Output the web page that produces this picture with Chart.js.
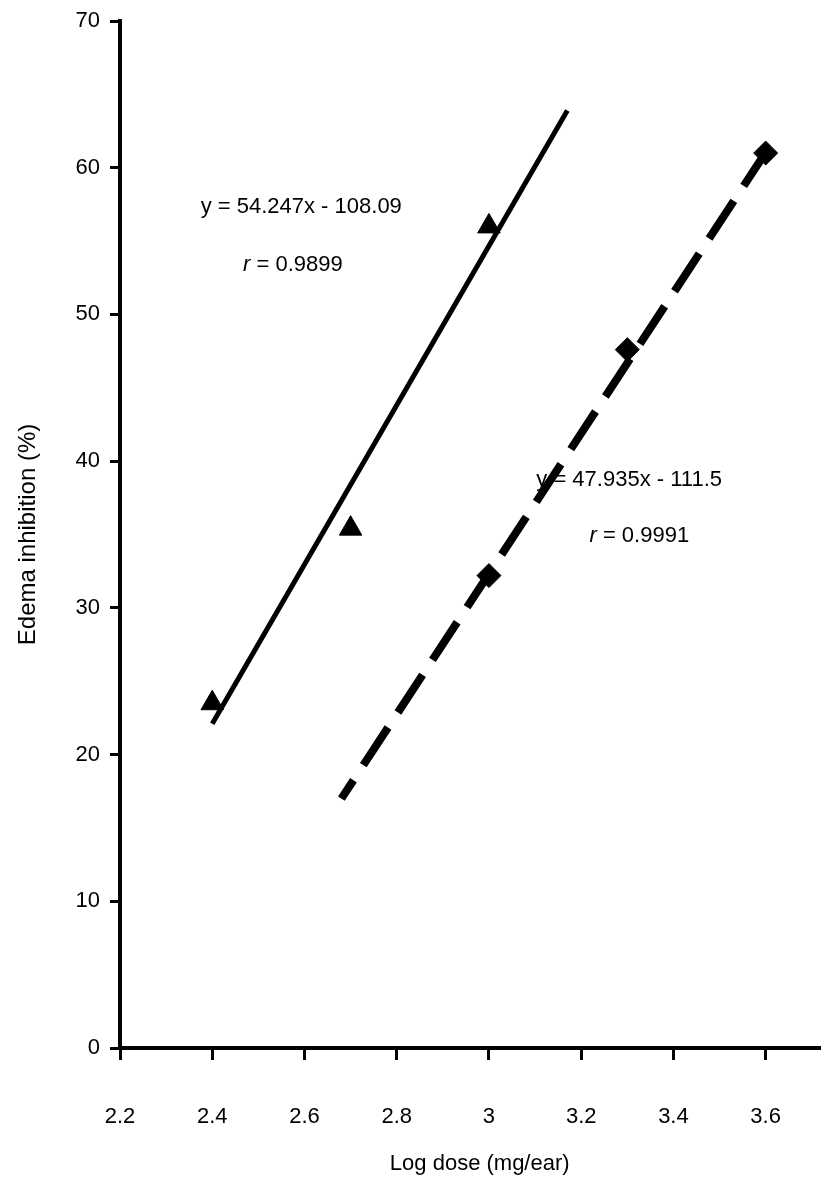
<!DOCTYPE html>
<html>
<head>
<meta charset="utf-8">
<script src="https://cdn.jsdelivr.net/npm/chart.js@4.4.1/dist/chart.umd.min.js"></script>
<style>
  html, body { margin: 0; padding: 0; background: #fff; }
  #wrap { width: 821px; height: 1181px; }
</style>
</head>
<body>
<div id="wrap"><canvas id="chart" width="821" height="1181"></canvas></div>
<script>
  // 軸の目盛
  var xTicks = [2.2, 2.4, 2.6, 2.8, 3.0, 3.2, 3.4, 3.6];
  var xTickLabels = ['2.2', '2.4', '2.6', '2.8', '3', '3.2', '3.4', '3.6'];
  var yTicks = [0, 10, 20, 30, 40, 50, 60, 70];

  // 三角: 測定値
  var triDose = [2.4, 2.7, 3.0];
  var triInhib = [23.5, 35.4, 56.0];
  // 菱形: 測定値
  var diaDose = [3.0, 3.3, 3.6];
  var diaInhib = [32.2, 47.6, 61.0];

  // 回帰直線 (図から読んだ端点)
  var solidFitDose = [2.4, 3.17];
  var solidFitInhib = [22.1, 63.9];
  var dashFitDose = [2.68, 3.62];
  var dashFitInhib = [17.0, 62.0];

  // 式のラベル (データ座標)
  var eqText = ['y = 54.247x - 108.09', 'y = 47.935x - 111.5'];
  var eqDose = [2.593, 3.304];
  var eqInhib = [57.3, 38.75];
  var rText = ['0.9899', '0.9991'];
  var rDose = [2.575, 3.326];
  var rInhib = [53.4, 34.9];

  var FONT = '"Liberation Sans", Arial, sans-serif';

  function pts(xs, ys) {
    return xs.map(function(x, i) { return { x: x, y: ys[i] }; });
  }

  var textPlugin = {
    id: 'textPlugin',
    afterDraw: function(c) {
      var ctx = c.ctx;
      var xs = c.scales.x, ys = c.scales.y;
      ctx.save();
      ctx.fillStyle = '#000';
      ctx.textBaseline = 'middle';
      ctx.textAlign = 'center';
      ctx.font = '22px ' + FONT;
      eqText.forEach(function(t, i) {
        ctx.fillText(t, xs.getPixelForValue(eqDose[i]), ys.getPixelForValue(eqInhib[i]));
      });
      // r = ... (r はイタリック)
      rText.forEach(function(t, i) {
        var cx = xs.getPixelForValue(rDose[i]);
        var cy = ys.getPixelForValue(rInhib[i]);
        ctx.font = 'italic 22px ' + FONT;
        var w1 = ctx.measureText('r').width;
        ctx.font = '22px ' + FONT;
        var rest = ' = ' + t;
        var w2 = ctx.measureText(rest).width;
        var left = cx - (w1 + w2) / 2;
        ctx.textAlign = 'left';
        ctx.font = 'italic 22px ' + FONT;
        ctx.fillText('r', left, cy);
        ctx.font = '22px ' + FONT;
        ctx.fillText(rest, left + w1, cy);
        ctx.textAlign = 'center';
      });
      // x軸タイトル
      ctx.font = '22px ' + FONT;
      ctx.fillText('Log dose (mg/ear)', xs.getPixelForValue(2.98), 1164);
      ctx.restore();
    }
  };

  new Chart(document.getElementById('chart'), {
    type: 'scatter',
    data: {
      datasets: [
        {
          label: 'fit1',
          data: pts(solidFitDose, solidFitInhib),
          showLine: true,
          borderColor: '#000',
          borderWidth: 5,
          pointRadius: 0,
          fill: false
        },
        {
          label: 'fit2',
          data: pts(dashFitDose, dashFitInhib),
          showLine: true,
          borderColor: '#000',
          borderWidth: 8,
          borderDash: [45, 18],
          borderDashOffset: 23,
          borderCapStyle: 'butt',
          pointRadius: 0,
          fill: false
        },
        {
          label: 'tri',
          data: pts(triDose, triInhib),
          pointStyle: 'triangle',
          pointRadius: 13,
          backgroundColor: '#000',
          borderColor: '#000',
          borderWidth: 1
        },
        {
          label: 'dia',
          data: pts(diaDose, diaInhib),
          pointStyle: 'rectRot',
          pointRadius: 12,
          backgroundColor: '#000',
          borderColor: '#000',
          borderWidth: 1
        }
      ]
    },
    options: {
      responsive: false,
      animation: false,
      layout: { autoPadding: false, padding: { top: 18, right: 0, left: 0, bottom: 0 } },
      plugins: {
        legend: { display: false },
        tooltip: { enabled: false }
      },
      scales: {
        x: {
          type: 'linear',
          min: 2.2,
          max: 3.72,
          afterBuildTicks: function(axis) {
            axis.ticks = xTicks.map(function(v) { return { value: v }; });
          },
          afterFit: function(axis) {
            axis.height = 133;
            axis.paddingRight = 0;
            axis.paddingLeft = 0;
          },
          border: { display: true, color: '#000', width: 4 },
          grid: { display: true, drawOnChartArea: false, drawTicks: true, tickLength: 12, color: '#000', lineWidth: 3 },
          ticks: {
            color: '#000',
            font: { family: FONT, size: 22 },
            padding: 44,
            maxRotation: 0,
            autoSkip: false,
            callback: function(v, i) { return xTickLabels[i]; }
          }
        },
        y: {
          type: 'linear',
          min: 0,
          max: 70,
          afterBuildTicks: function(axis) {
            axis.ticks = yTicks.map(function(v) { return { value: v }; });
          },
          afterFit: function(axis) { axis.width = 120; },
          border: { display: true, color: '#000', width: 4 },
          grid: { display: true, drawOnChartArea: false, drawTicks: true, tickLength: 10, color: '#000', lineWidth: 3 },
          ticks: {
            color: '#000',
            font: { family: FONT, size: 22, lineHeight: 1 },
            padding: 10
          },
          title: {
            display: true,
            text: 'Edema inhibition (%)',
            color: '#000',
            font: { family: FONT, size: 24 },
            padding: { top: 14, bottom: 0 }
          }
        }
      }
    },
    plugins: [textPlugin]
  });
</script>
</body>
</html>
